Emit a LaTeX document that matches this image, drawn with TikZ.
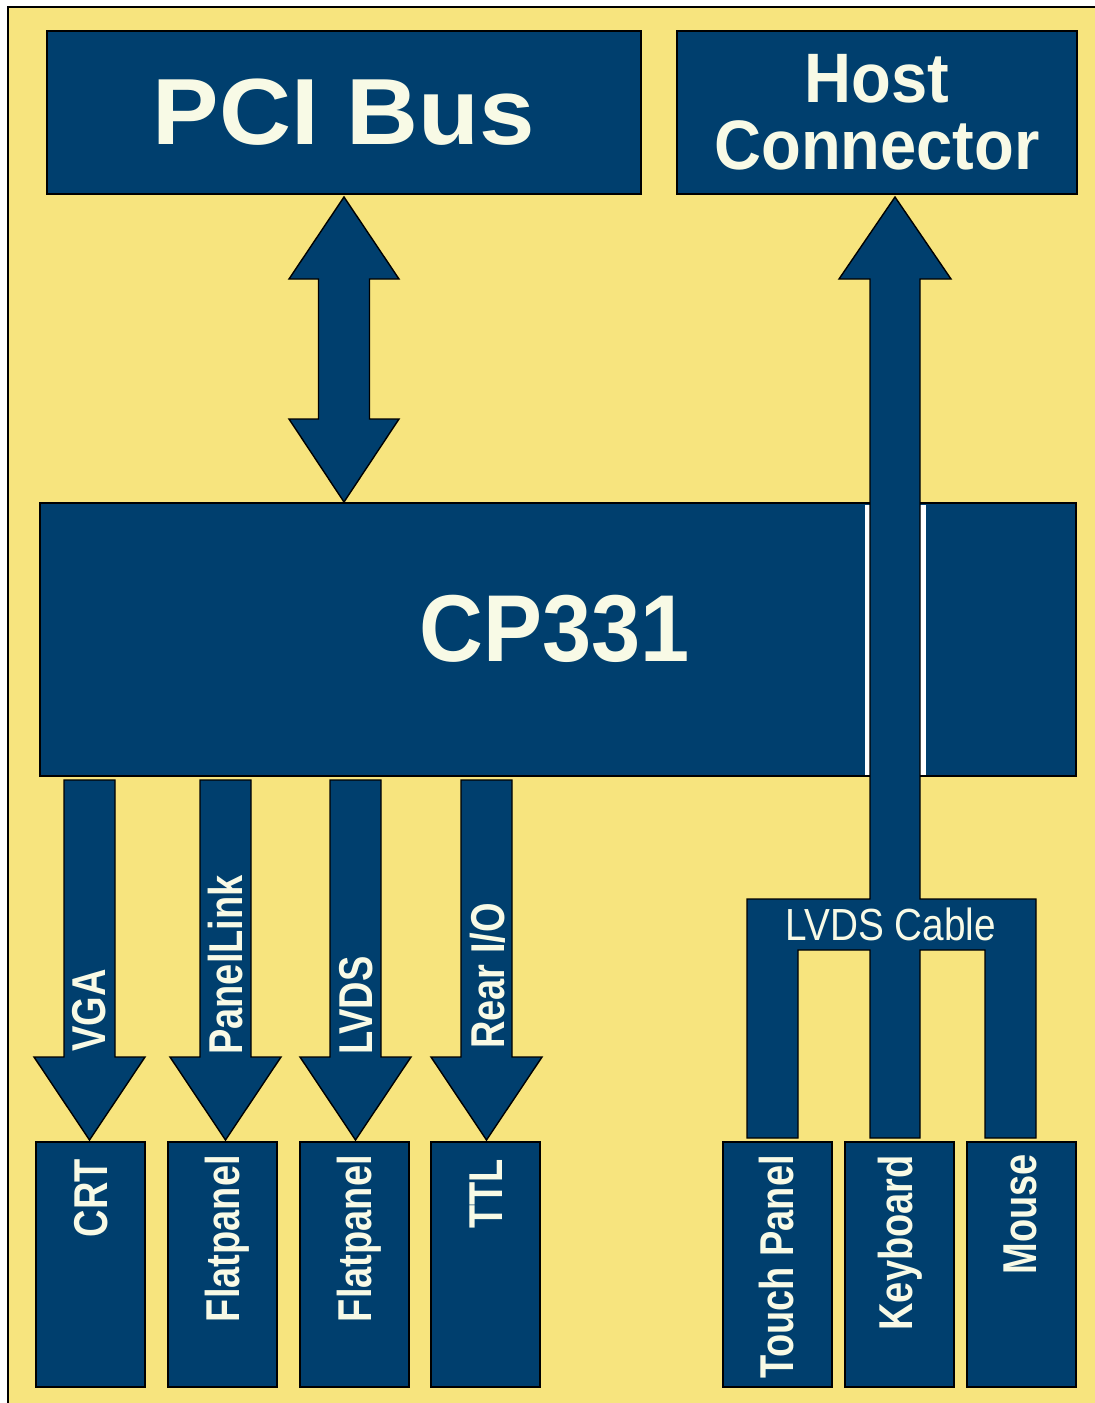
\documentclass[tikz,border=0pt]{standalone}
\usepackage{fontspec}
\setmainfont{Liberation Sans}
\newfontfamily\widesans[FakeStretch=1.06]{Liberation Sans}
\newfontfamily\semisans[FakeStretch=0.93]{Liberation Sans}
\newfontfamily\cablesans[FakeStretch=0.86]{Liberation Sans}
\newfontfamily\narrowsans[FakeStretch=0.8]{Liberation Sans}
\definecolor{bgyellow}{HTML}{F7E47E}
\definecolor{boxblue}{HTML}{003F6E}
\definecolor{labelwhite}{HTML}{F8FAE6}
\tikzset{
  blockbox/.style={draw=black, line width=1.6pt, fill=boxblue, inner sep=0pt, outer sep=0pt},
  blockarrow/.style={draw=black, line width=1.4pt, fill=boxblue, line join=miter},
  rotlabel/.style={text=labelwhite, inner sep=0pt, rotate=90,
    font=\narrowsans\bfseries\fontsize{47.5}{50}\selectfont},
}
\begin{document}
\begin{tikzpicture}[x=1pt, y=-1pt]
\useasboundingbox (0,0) rectangle (1095,1403);
\fill[white] (0,0) rectangle (1095,1403);
\fill[bgyellow] (8,7) rectangle (1095,1403);
\draw[line width=2pt] (8,1403) -- (8,7) -- (1095,7);

% top boxes
\node[blockbox, minimum width=594pt, minimum height=163pt, text=labelwhite,
  font=\widesans\bfseries\fontsize{94}{94}\selectfont] (pci) at (344,112.5) {PCI Bus};
\node[blockbox, minimum width=400pt, minimum height=163pt, text=labelwhite, align=center,
  font=\semisans\bfseries\fontsize{70}{67}\selectfont] (host) at (877,112.5) {Host\\Connector};

% main board
\node[blockbox, minimum width=1036pt, minimum height=273pt] (cp) at (558,639.5) {};
\node[text=labelwhite, inner sep=0pt, font=\semisans\bfseries\fontsize{95}{95}\selectfont]
  (cplabel) at (555,629) {CP331};

% bottom boxes
\foreach \nm/\cx in {crt/90.5, fpa/222.5, fpb/354.5, ttl/485.5, touch/777.5, kbd/899.5, mouse/1021.5}{
  \node[blockbox, minimum width=109pt, minimum height=245pt] (\nm) at (\cx,1264.5) {};
}

% white gap strips beside the host shaft
\fill[white] (865,505) rectangle (926,775);

% host connector arrow with LVDS cable
\draw[blockarrow] (895,197) -- (951,279) -- (920,279) -- (920,899) -- (1036,899) -- (1036,1138)
  -- (985,1138) -- (985,950) -- (920,950) -- (920,1138) -- (870,1138) -- (870,950)
  -- (798,950) -- (798,1138) -- (747,1138) -- (747,899) -- (870,899) -- (870,279)
  -- (839,279) -- cycle;
\node[text=labelwhite, inner sep=0pt, anchor=base, font=\cablesans\fontsize{45}{45}\selectfont]
  (cable) at (891,940) {LVDS Cable};

% double arrow PCI <-> CP331
\draw[blockarrow] (344,197) -- (399,279) -- (369.5,279) -- (369.5,419) -- (399,419)
  -- (344,502) -- (289,419) -- (318.5,419) -- (318.5,279) -- (289,279) -- cycle;

% down arrows
\foreach \cx in {89.5, 225.5, 355.5, 486.5}{
  \draw[blockarrow] (\cx-25.5,780) -- (\cx+25.5,780) -- (\cx+25.5,1057) -- (\cx+55.5,1057)
    -- (\cx,1140) -- (\cx-55.5,1057) -- (\cx-25.5,1057) -- cycle;
}

% arrow labels
\node[rotlabel, anchor=base west] (lvga) at (105.5,1052) {VGA};
\node[rotlabel, anchor=base west] (lpl) at (242,1055) {PanelLink};
\node[rotlabel, anchor=base west] (llvds) at (372,1055) {LVDS};
\node[rotlabel, anchor=base west] (lrear) at (504,1049) {Rear I/O};

% box labels
\node[rotlabel, anchor=base east] (tcrt) at (107,1159) {CRT};
\node[rotlabel, anchor=base east] (tfpa) at (239,1155) {Flatpanel};
\node[rotlabel, anchor=base east] (tfpb) at (371,1155) {Flatpanel};
\node[rotlabel, anchor=base east] (tttl) at (502,1159) {TTL};
\node[rotlabel, anchor=base east] (ttouch) at (793,1155) {Touch Panel};
\node[rotlabel, anchor=base east] (tkbd) at (912,1155) {Keyboard};
\node[rotlabel, anchor=base east] (tmouse) at (1036,1154) {Mouse};
\end{tikzpicture}
\end{document}
